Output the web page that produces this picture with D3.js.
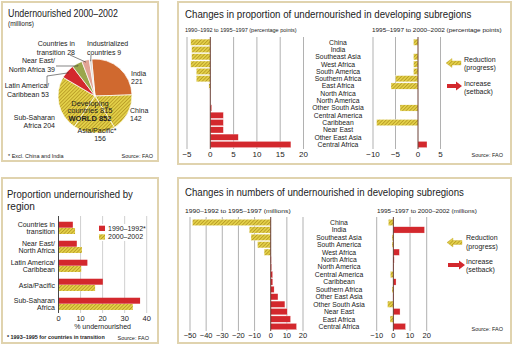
<!DOCTYPE html>
<html><head><meta charset="utf-8">
<script src="https://cdn.jsdelivr.net/npm/d3@7"></script>
<style>
body{margin:0;background:#fff}
svg{display:block}
text{font-family:"Liberation Sans Narrow","Liberation Sans",Arial,sans-serif;fill:#222}
</style>
</head><body>
<svg id="c" width="514" height="347"></svg>
<script>
// ---------- DATA ----------
const pieCategories = ["India","China","Asia/Pacific*","Sub-Saharan Africa","Latin America/Caribbean","Near East/North Africa","Countries in transition","Industrialized countries"];
const pieValues = [221,142,156,204,53,39,28,9];

const regionCategories = ["Countries in transition","Near East/North Africa","Latin America/Caribbean","Asia/Pacific","Sub-Saharan Africa"];
const regionLabelLines = [["Countries in","transition"],["Near East/","North Africa"],["Latin America/","Caribbean"],["Asia/Pacific"],["Sub-Saharan","Africa"]];
const prop1990 = [6.5, 8.3, 13.1, 20.1, 37];
const prop2000 = [7.5, 10.6, 10.3, 16.6, 33.7];
const regionTicks = [0,10,20,30,40];
const regionSeries = ["1990–1992*","2000–2002"];

const propCategories = ["China","India","Southeast Asia","West Africa","South America","Southern Africa","East Africa","North Africa","North America","Other South Asia","Central America","Caribbean","Near East","Other East Asia","Central Africa"];
const propChange1 = [-4.2,-4,-4,-4.2,-3,-3,-0.3,0,0,0.3,2.8,2.8,2.8,6,17.3];
const propChange2 = [-1,0,-1,-1,-1,-5,-6,0,0,-4,0,-9.2,0,0,2];
const propTicks1 = [-5,0,5,10,15,20];
const propTicks2 = [-10,-5,0,5];

const numCategories = ["China","India","Southeast Asia","South America","West Africa","North Africa","North America","Central America","Caribbean","Southern Africa","Other East Asia","Other South Asia","Near East","East Africa","Central Africa"];
const numChange1 = [-48.5,-13.3,-12.2,-8.2,-4.1,0.3,0.5,1.2,1.3,2.1,4.5,8.8,10.2,12.3,16];
const numChange2 = [-3,18.7,-0.8,-0.8,3.6,0.5,0.3,-1.8,1.6,-0.8,0.3,-3.5,4,-2,7.3];
const numTicks1 = [-50,-40,-30,-20,-10,0,10,20];
const numTicks2 = [-10,0,10,20];

// ---------- STYLE ----------
const RED = "#d3282d", ORANGE = "#d0692f", GREEN = "#9aa64c", PINK = "#e2a394", GREYS = "#dcd8d0";
const svg = d3.select("#c");
const defs = svg.append("defs");
const pat = defs.append("pattern").attr("id","hatchY").attr("patternUnits","userSpaceOnUse")
  .attr("width",2.5).attr("height",2.5).attr("patternTransform","rotate(45)");
pat.append("rect").attr("width",2.5).attr("height",2.5).attr("fill","#e4d24a");
pat.append("rect").attr("width",0.9).attr("height",2.5).attr("fill","#b99c26");
const YEL = "url(#hatchY)";

function txt(g, x, y, s, o={}) {
  const t = g.append("text").attr("x",x).attr("y",y).text(s)
    .attr("font-size", o.size||7).attr("text-anchor", o.anchor||"start");
  if (o.weight) t.attr("font-weight", o.weight);
  if (o.fill) t.style("fill", o.fill);
  if (o.len) {
    const nat = t.node().getComputedTextLength();
    if (nat > 0) {
      const k = o.len / nat;
      t.attr("transform", `translate(${x},0) scale(${k},1) translate(${-x},0)`);
    }
  }
  return t;
}

// ---------- PANELS ----------
const panels = [[2,2,156,159],[178,2,333,162],[2,178,156,165],[178,178,333,165]];
panels.forEach(p => {
  svg.append("rect").attr("x",p[0]).attr("y",p[1]).attr("width",p[2]).attr("height",p[3])
    .attr("fill","#fff").attr("stroke","#e0d3ae").attr("stroke-width",2);
});

// ---------- PIE (top-left) ----------
{
  const g = svg.append("g");
  txt(g, 8, 17, "Undernourished 2000–2002", {size:11, len:110});
  txt(g, 8, 26, "(millions)", {size:8, len:26});
  const cx = 95, cy = 96, r = 37;
  const pie = d3.pie().sort(null).value(d=>d).startAngle(-0.09).endAngle(-0.09+2*Math.PI);
  const arcs = pie(pieValues);
  const arc = d3.arc().innerRadius(0).outerRadius(r);
  const fills = [ORANGE, YEL, YEL, YEL, RED, GREEN, PINK, GREYS];
  const pg = g.append("g").attr("transform",`translate(${cx},${cy})`);
  pg.selectAll("path").data(arcs).join("path").attr("d",arc)
    .attr("fill",(d,i)=>fills[i]).attr("stroke","#fff").attr("stroke-width",0.7);
  const outer = d3.arc().innerRadius(r-2).outerRadius(r-2);
  const pt = i => { const c = outer.centroid(arcs[i]); return [cx+c[0], cy+c[1]]; };
  const lead = (pts) => g.append("path").attr("d", d3.line()(pts)).attr("fill","none").attr("stroke","#333").attr("stroke-width",0.6);
  let p;
  p = pt(5); lead([[56,66],[p[0],66],[p[0],p[1]]]);
  p = pt(4); lead([[47,85],[47,76],[p[0],p[1]]]);
  p = pt(6); lead([[70,55],[p[0],p[1]]]);
  p = pt(7); lead([[91,55],[p[0],p[1]]]);
  txt(g, 75, 45.5, "Countries in", {anchor:"end"});
  txt(g, 75, 55, "transition 28", {anchor:"end"});
  txt(g, 87, 45.5, "Industrialized");
  txt(g, 87, 55, "countries 9");
  txt(g, 55, 62.5, "Near East/", {anchor:"end"});
  txt(g, 55, 71.5, "North Africa 39", {anchor:"end"});
  txt(g, 49, 87.5, "Latin America/", {anchor:"end"});
  txt(g, 49, 96.5, "Caribbean 53", {anchor:"end"});
  txt(g, 55, 119.5, "Sub-Saharan", {anchor:"end"});
  txt(g, 55, 128, "Africa 204", {anchor:"end"});
  txt(g, 97, 132.5, "Asia/Pacific*", {anchor:"middle"});
  txt(g, 100, 141, "156", {anchor:"middle"});
  txt(g, 130, 112.5, "China");
  txt(g, 130, 121, "142");
  txt(g, 131, 75.5, "India");
  txt(g, 131, 84, "221");
  txt(g, 90, 105.5, "Developing", {anchor:"middle", size:7.5});
  txt(g, 90, 113, "countries 815", {anchor:"middle", size:7.5});
  txt(g, 90, 120.5, "WORLD 852", {anchor:"middle", size:7.5, weight:"bold"});
  txt(g, 8, 158, "* Excl. China and India", {size:5.5});
  txt(g, 153, 158, "Source: FAO", {size:5.5, anchor:"end"});
}

// ---------- generic diverging bar chart ----------
function divChart(o) {
  const g = svg.append("g");
  const x = d3.scaleLinear().domain(o.domain).range(o.range);
  const y = d3.scaleBand().domain(o.cats).range(o.yRange).paddingInner(0.15);
  o.ticks.filter(t=>t!==0).forEach(t => {
    g.append("line").attr("x1",x(t)).attr("x2",x(t)).attr("y1",o.gy[0]).attr("y2",o.gy[1])
      .attr("stroke","#a8a8a8").attr("stroke-width",0.9);
  });
  g.selectAll("rect.b").data(o.values).join("rect").attr("class","b")
    .attr("x",d=>x(Math.min(0,d))).attr("width",d=>Math.abs(x(d)-x(0)))
    .attr("y",(d,i)=>y(o.cats[i])).attr("height",y.bandwidth())
    .attr("fill",d=>d<0?YEL:RED).attr("stroke","#fff").attr("stroke-width",0.3);
  g.append("line").attr("x1",x(0)).attr("x2",x(0)).attr("y1",o.gy[0]).attr("y2",o.gy[1])
    .attr("stroke","#5a2a20").attr("stroke-width",0.9);
  o.ticks.forEach(t => txt(g, x(t), o.tickY, String(t).replace("-","−"), {anchor:"middle", size:o.tickSize||8}));
  return y;
}

// ---------- TOP-RIGHT: proportions ----------
{
  const g = svg.append("g");
  txt(g, 185, 18, "Changes in proportion of undernourished in developing subregions", {size:11.5, len:287});
  txt(g, 185, 32, "1990–1992 to 1995–1997 (percentage points)", {size:6, len:112});
  txt(g, 372, 32, "1995–1997 to 2000–2002 (percentage points)", {size:6, len:130});
  const y = divChart({cats:propCategories, values:propChange1, domain:[-5,20], range:[187,303.5],
    yRange:[39.1,147.6], gy:[37,149], ticks:propTicks1, tickY:157});
  divChart({cats:propCategories, values:propChange2, domain:[-10,5], range:[373,440.5],
    yRange:[39.1,147.6], gy:[37,149], ticks:propTicks2, tickY:157});
  propCategories.forEach(c => txt(g, 338, y(c)+y.bandwidth()/2+2.4, c, {anchor:"middle", size:6.8}));
  g.append("path").attr("d","M446,63 L452,58.5 L452,61 L461,61 L461,65 L452,65 L452,67.5 Z").attr("fill",YEL).attr("stroke","#c9b035").attr("stroke-width",0.4);
  g.append("path").attr("d","M462,86 L456,81.5 L456,84 L447,84 L447,88 L456,88 L456,90.5 Z").attr("fill",RED);
  txt(g, 464, 61.5, "Reduction");
  txt(g, 464, 70, "(progress)");
  txt(g, 464, 85.5, "Increase");
  txt(g, 464, 94, "(setback)");
  txt(g, 503, 157, "Source: FAO", {size:5.5, anchor:"end"});
}

// ---------- BOTTOM-RIGHT: numbers ----------
{
  const g = svg.append("g");
  txt(g, 185, 196, "Changes in numbers of undernourished in developing subregions", {size:11.5, len:279});
  txt(g, 185, 213.5, "1990–1992 to 1995–1997 (millions)", {size:6, len:106});
  txt(g, 377, 213.5, "1995–1997 to 2000–2002 (millions)", {size:6, len:100});
  const y = divChart({cats:numCategories, values:numChange1, domain:[-50,20], range:[190,303],
    yRange:[219.3,329.7], gy:[217,331], ticks:numTicks1, tickY:338, tickSize:7.5});
  divChart({cats:numCategories, values:numChange2, domain:[-10,20], range:[376.7,426.7],
    yRange:[219.3,329.7], gy:[217,331], ticks:numTicks2, tickY:338, tickSize:7.5});
  numCategories.forEach(c => txt(g, 339, y(c)+y.bandwidth()/2+2.4, c, {anchor:"middle", size:6.8}));
  g.append("path").attr("d","M447,242.5 L453,238 L453,240.5 L462,240.5 L462,244.5 L453,244.5 L453,247 Z").attr("fill",YEL).attr("stroke","#c9b035").attr("stroke-width",0.4);
  g.append("path").attr("d","M465,265 L459,260.5 L459,263 L448,263 L448,267 L459,267 L459,269.5 Z").attr("fill",RED);
  txt(g, 466, 240, "Reduction");
  txt(g, 466, 248.5, "(progress)");
  txt(g, 466, 263.5, "Increase");
  txt(g, 466, 272, "(setback)");
  txt(g, 503, 331, "Source: FAO", {size:5.5, anchor:"end"});
}

// ---------- BOTTOM-LEFT: proportion by region ----------
{
  const g = svg.append("g");
  txt(g, 7, 198, "Proportion undernourished by", {size:11, len:126});
  txt(g, 7, 210, "region", {size:11, len:28});
  const x = d3.scaleLinear().domain([0,40]).range([58.5,146.7]);
  const y = d3.scaleBand().domain(regionCategories).range([218.5,313.5]).paddingInner(0.34).paddingOuter(0.17);
  const h = y.bandwidth()/2;
  regionTicks.filter(t=>t>0).forEach(t => g.append("line").attr("x1",x(t)).attr("x2",x(t))
    .attr("y1",216).attr("y2",313).attr("stroke","#c4c4c4").attr("stroke-width",0.8));
  g.selectAll("rect.r").data(prop1990).join("rect").attr("class","r")
    .attr("x",x(0)).attr("y",(d,i)=>y(regionCategories[i])).attr("width",d=>x(d)-x(0)).attr("height",h-0.3)
    .attr("fill",RED);
  g.selectAll("rect.y").data(prop2000).join("rect").attr("class","y")
    .attr("x",x(0)).attr("y",(d,i)=>y(regionCategories[i])+h).attr("width",d=>x(d)-x(0)).attr("height",h-0.3)
    .attr("fill",YEL);
  g.append("line").attr("x1",x(0)).attr("x2",x(0)).attr("y1",216).attr("y2",313).attr("stroke","#333").attr("stroke-width",0.9);
  regionCategories.forEach((c,i) => {
    const lines = regionLabelLines[i];
    const cyy = y(c)+y.bandwidth()/2;
    lines.forEach((l,j) => txt(g, 55, cyy + (j-(lines.length-1)/2)*7.6 + 2.5, l, {anchor:"end"}));
  });
  regionTicks.forEach(t => txt(g, x(t), 320.5, String(t), {anchor:"middle", size:7.5}));
  txt(g, x(20), 328.5, "% undernourished", {anchor:"middle", size:7});
  g.append("rect").attr("x",97).attr("y",224).attr("width",46).attr("height",17).attr("fill","#fff");
  g.append("rect").attr("x",99).attr("y",225.7).attr("width",6).attr("height",5.3).attr("fill",RED);
  g.append("rect").attr("x",99).attr("y",234.3).attr("width",6).attr("height",5.3).attr("fill",YEL);
  txt(g, 108, 230.8, regionSeries[0]);
  txt(g, 108, 239.4, regionSeries[1]);
  txt(g, 7, 339.5, "* 1993–1995 for countries in transition", {size:5, weight:"bold", len:98});
  txt(g, 149, 339.5, "Source: FAO", {size:5.5, anchor:"end"});
}
</script>
</body></html>
